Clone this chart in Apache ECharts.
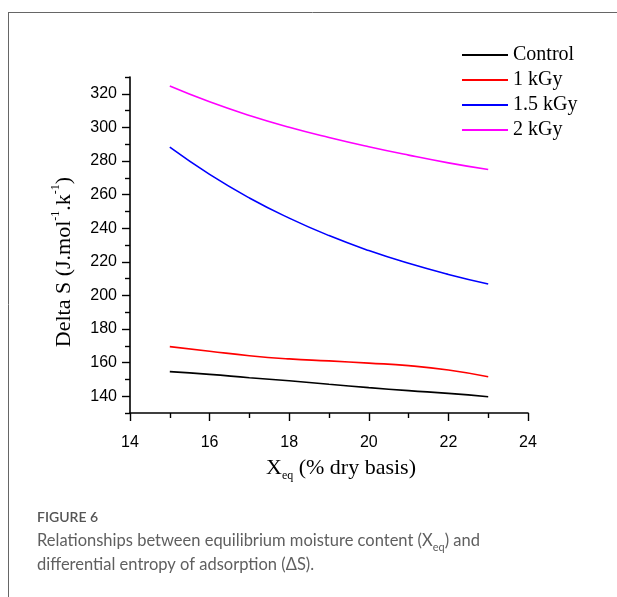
<!DOCTYPE html>
<html><head><meta charset="utf-8">
<script src="https://cdn.jsdelivr.net/npm/echarts@6/dist/echarts.min.js"></script>
<style>html,body{margin:0;padding:0;background:#fff}#c{width:617px;height:597px}</style>
</head><body><div id="c"></div>
<script>
const xValues = [15, 16, 17, 18, 19, 20, 21, 22, 23];
const seriesNames = ['Control', '1 kGy', '1.5 kGy', '2 kGy'];
const controlData = [154.6, 153.0, 151.0, 149.2, 147.1, 145.1, 143.3, 141.7, 139.7];
const kGy1Data = [169.5, 166.8, 164.1, 162.2, 161.0, 159.7, 158.2, 155.6, 151.6];
const kGy15Data = [288.2, 272.0, 258.0, 246.0, 235.6, 226.7, 219.1, 212.5, 206.8];
const kGy2Data = [324.6, 315.2, 307.1, 300.1, 294.0, 288.5, 283.5, 278.9, 274.9];
const xTicks = [14, 16, 18, 20, 22, 24];
const yTickLabels = [140, 160, 180, 200, 220, 240, 260, 280, 300, 320];
const yMinorTicks = [130, 150, 170, 190, 210, 230, 250, 270, 290, 310, 330];
const colors = ['#000000', '#ff0000', '#0000ff', '#ff00ff'];
const allData = [controlData, kGy1Data, kGy15Data, kGy2Data];

const chart = echarts.init(document.getElementById('c'), null, {renderer: 'canvas'});
const serif = '"Liberation Serif", "Times New Roman", serif';
const sans = '"Liberation Sans", Arial, sans-serif';
const capFont = 'Lato, "Open Sans", sans-serif';
const axisCommon = {
  axisLine: {show: true, lineStyle: {color: '#000', width: 1.6}},
  splitLine: {show: false}
};
chart.setOption({
  animation: false,
  grid: {left: 130, right: 89, top: 77, bottom: 184, containLabel: false},
  legend: {
    orient: 'vertical', left: 462, top: 45, padding: 0, itemWidth: 46, itemHeight: 2, itemGap: 5,
    icon: 'rect',
    textStyle: {fontFamily: serif, fontSize: 20, color: '#000'},
    data: seriesNames
  },
  xAxis: Object.assign({
    type: 'value', min: 14, max: 24, interval: 2,
    axisTick: {show: true, length: 8, lineStyle: {color: '#000', width: 1.4}},
    minorTick: {show: true, splitNumber: 2, length: 5, lineStyle: {color: '#000', width: 1.4}},
    axisLabel: {fontFamily: sans, fontSize: 16, color: '#000', margin: 22,
      customValues: xTicks}
  }, axisCommon),
  yAxis: [
    Object.assign({
      type: 'value', min: 130, max: 330, position: 'left',
      axisTick: {show: true, length: 8, customValues: yTickLabels, lineStyle: {color: '#000', width: 1.4}},
      axisLabel: {fontFamily: sans, fontSize: 16, color: '#000', margin: 13, customValues: yTickLabels}
    }, axisCommon),
    {
      type: 'value', min: 130, max: 330, position: 'left', offset: 0,
      axisLine: {show: false}, splitLine: {show: false},
      axisLabel: {show: false},
      axisTick: {show: true, length: 5, customValues: yMinorTicks, lineStyle: {color: '#000', width: 1.4}}
    }
  ],
  graphic: [
    {type: 'line', shape: {x1: 8, y1: 12.5, x2: 617, y2: 12.5}, style: {stroke: '#666', lineWidth: 1}},
    {type: 'line', shape: {x1: 8.5, y1: 12, x2: 8.5, y2: 597}, style: {stroke: '#666', lineWidth: 1}},
    {type: 'text', x: 64, y: 262, rotation: Math.PI / 2,
      style: {
        text: '{m|Delta S (J.mol}{s|-1}{m|.k}{s|-1}{m|)}',
        align: 'center', verticalAlign: 'middle',
        rich: {
          m: {fontFamily: serif, fontSize: 22, fill: '#000', lineHeight: 28},
          s: {fontFamily: serif, fontSize: 12, fill: '#000', lineHeight: 12, verticalAlign: 'top'}
        }
      }},
    {type: 'text', x: 341, y: 468,
      style: {
        text: '{m|X}{b|eq}{m| (% dry basis)}',
        align: 'center', verticalAlign: 'middle',
        rich: {
          m: {fontFamily: serif, fontSize: 22, fill: '#000', lineHeight: 28},
          b: {fontFamily: serif, fontSize: 12, fill: '#000', lineHeight: 12, verticalAlign: 'bottom'}
        }
      }},
    {type: 'text', x: 37, y: 517,
      style: {text: 'FIGURE 6', fontFamily: capFont, fontSize: 14, fontWeight: 600,
        fill: '#555', align: 'left', verticalAlign: 'middle'}},
    {type: 'text', x: 37, y: 541,
      style: {
        text: '{t|Relationships between equilibrium moisture content (X}{b|eq}{t|) and}',
        align: 'left', verticalAlign: 'middle',
        rich: {
          t: {fontFamily: capFont, fontSize: 16.5, fill: '#5f5f5f', lineHeight: 24},
          b: {fontFamily: capFont, fontSize: 11, fill: '#5f5f5f', lineHeight: 11, verticalAlign: 'bottom'}
        }
      }},
    {type: 'text', x: 37, y: 565,
      style: {text: 'differential entropy of adsorption (\u0394S).', fontFamily: capFont,
        fontSize: 16.5, fill: '#5f5f5f', align: 'left', verticalAlign: 'middle'}}
  ],
  series: seriesNames.map((n, i) => ({
    name: n, type: 'line', smooth: true, symbol: 'none', showSymbol: false,
    yAxisIndex: 0,
    lineStyle: {color: colors[i], width: 1.6},
    itemStyle: {color: colors[i]},
    data: xValues.map((x, j) => [x, allData[i][j]])
  }))
});
</script></body></html>
